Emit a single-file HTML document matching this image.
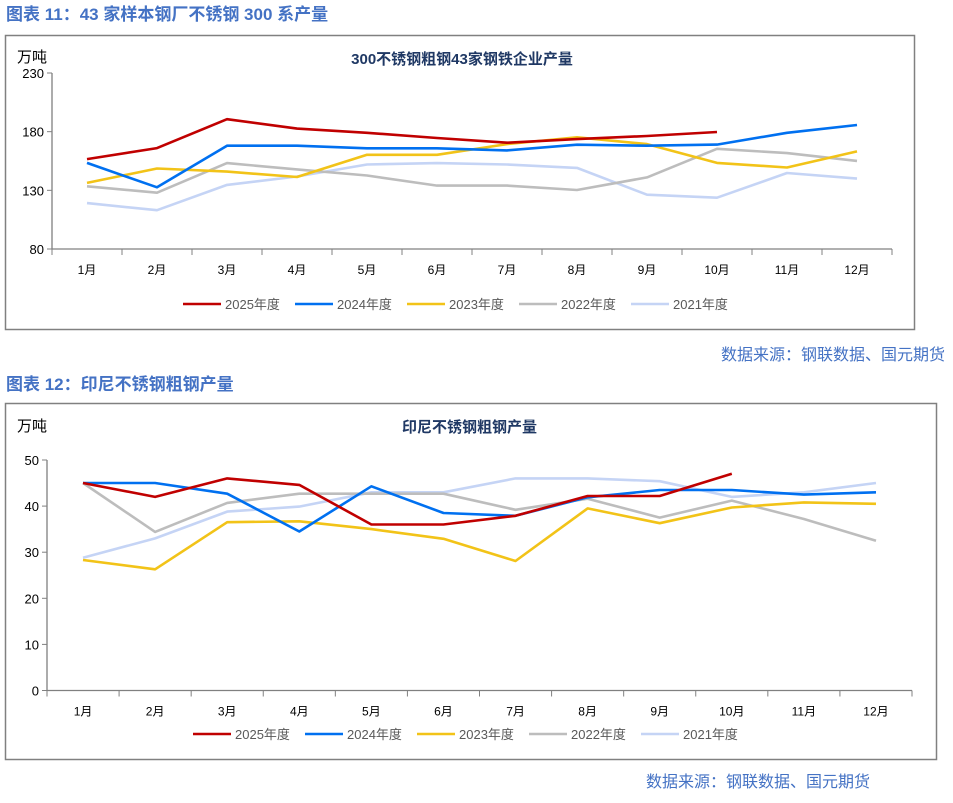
<!DOCTYPE html>
<html><head><meta charset="utf-8"><style>
body{margin:0;background:#fff;width:953px;height:798px;overflow:hidden;font-family:"Liberation Sans","Noto Sans CJK SC",sans-serif}
</style></head><body>
<svg id="svg" width="953" height="798" xmlns="http://www.w3.org/2000/svg" font-family="Liberation Sans, Noto Sans CJK SC, sans-serif">
<text x="6" y="20" font-size="17" fill="#4472c4" font-weight="bold">图表 11：43 家样本钢厂不锈钢 300 系产量</text>
<rect x="5.5" y="35.5" width="909" height="294" fill="none" stroke="#808080" stroke-width="1.5"/>
<text x="945" y="360" font-size="16" fill="#4472c4" text-anchor="end">数据来源：钢联数据、国元期货</text>
<text x="6" y="390" font-size="17" fill="#4472c4" font-weight="bold">图表 12：印尼不锈钢粗钢产量</text>
<rect x="5.5" y="403.5" width="931" height="356" fill="none" stroke="#808080" stroke-width="1.5"/>
<text x="870" y="787" font-size="16" fill="#4472c4" text-anchor="end">数据来源：钢联数据、国元期货</text>
<g id="c1"></g><g id="c2"></g>
</svg>
<script>
const months=["1月","2月","3月","4月","5月","6月","7月","8月","9月","10月","11月","12月"];
const seriesNames=["2025年度","2024年度","2023年度","2022年度","2021年度"];
const colors=["#c00000","#0070f0","#f2c318","#bdbdbd","#c5d4f5"];
const c1y2025=[156.6,166,190.6,182.6,179,174.6,170.6,173.7,176.3,179.7];
const c1y2024=[153.4,132.6,168,168,165.8,165.8,164,168.9,168,169,179,185.7];
const c1y2023=[136.3,148.6,146,141.4,160.3,160.3,169.4,175.2,169.4,153.4,149.5,163.2];
const c1y2022=[133.4,128,153.2,147.8,142.6,134,134,130.3,141,165.4,161.7,155.1];
const c1y2021=[119.1,113.1,134.6,141.8,152,153.2,152,149.1,126.3,123.7,144.8,140];
const c1ticks=[80,130,180,230];
const c2y2025=[45,42,46,44.6,36,36,37.9,42.2,42.2,47];
const c2y2024=[45,45,42.7,34.5,44.3,38.5,37.9,41.9,43.5,43.5,42.5,43];
const c2y2023=[28.3,26.3,36.5,36.7,35,32.9,28.1,39.5,36.3,39.7,40.8,40.5];
const c2y2022=[45,34.4,40.7,42.7,42.7,42.7,39.2,41.6,37.5,41.2,37.2,32.5];
const c2y2021=[28.8,33,38.8,39.9,43,43,46,46,45.4,42,43,45];
const c2ticks=[0,10,20,30,40,50];
const NS="http://www.w3.org/2000/svg";
function mk(p,t,a,txt){const e=document.createElementNS(NS,t);for(const k in a)e.setAttribute(k,a[k]);if(txt!=null)e.textContent=txt;p.appendChild(e);return e;}
function chart(g,o){
 const x0=o.x0,x1=o.x1,yT=o.yT,yB=o.yB,mn=o.ticks[0],mx=o.ticks[o.ticks.length-1];
 const step=(x1-x0)/months.length;
 const X=i=>x0+step*(i+0.5);
 const Y=v=>yB-(v-mn)/(mx-mn)*(yB-yT);
 let t=mk(g,"text",{x:(x0+x1)/2+o.tdx,y:o.titleY,"font-size":15,"font-weight":"bold",fill:"#1f3864","text-anchor":"middle"},o.title);
 
 
 t=mk(g,"text",{x:17,y:o.unitY,"font-size":15,fill:"#000"},"万吨");
 
 
 let ax=mk(g,"path",{d:`M${x0} ${yT}V${yB}H${x1}`,stroke:"#808080","stroke-width":1.3,fill:"none"});
 
 
 o.ticks.forEach(v=>{mk(g,"line",{x1:x0-5,x2:x0,y1:Y(v),y2:Y(v),stroke:"#808080"});
  const l=mk(g,"text",{x:x0-8,y:Y(v)+5,"font-size":13,"text-anchor":"end"},v);
  
  });
 for(let i=0;i<=months.length;i++)mk(g,"line",{x1:x0+step*i,x2:x0+step*i,y1:yB,y2:yB+6,stroke:"#808080"});
 months.forEach((m,i)=>{const l=mk(g,"text",{x:X(i),y:yB+25,"font-size":12,"text-anchor":"middle"},m);
  
  });
 for(let s=o.series.length-1;s>=0;s--){
  const d=o.series[s].map((v,i)=>(i?"L":"M")+X(i).toFixed(1)+" "+Y(v).toFixed(1)).join("");
  const p=mk(g,"path",{d,stroke:colors[s],"stroke-width":2.6,fill:"none","stroke-linejoin":"round"});
  
  
 }
 seriesNames.forEach((n,i)=>{const lx=o.legX+i*112;
  const le=mk(g,"g",{});
  
  
  mk(le,"line",{x1:lx,x2:lx+38,y1:o.legY,y2:o.legY,stroke:colors[i],"stroke-width":2.6});
  mk(le,"text",{x:lx+42,y:o.legY+5,"font-size":13,fill:"#595959"},n);});
}
chart(document.getElementById("c1"),{x0:52,x1:892,yT:73,yB:249,ticks:c1ticks,series:[c1y2025,c1y2024,c1y2023,c1y2022,c1y2021],title:"300不锈钢粗钢43家钢铁企业产量",tdx:-10,titleY:64,unitY:62,legX:183,legY:304});
chart(document.getElementById("c2"),{x0:47,x1:912,yT:460,yB:690.5,ticks:c2ticks,series:[c2y2025,c2y2024,c2y2023,c2y2022,c2y2021],title:"印尼不锈钢粗钢产量",tdx:-10,titleY:432,unitY:431,legX:193,legY:734});
</script>
</body></html>
